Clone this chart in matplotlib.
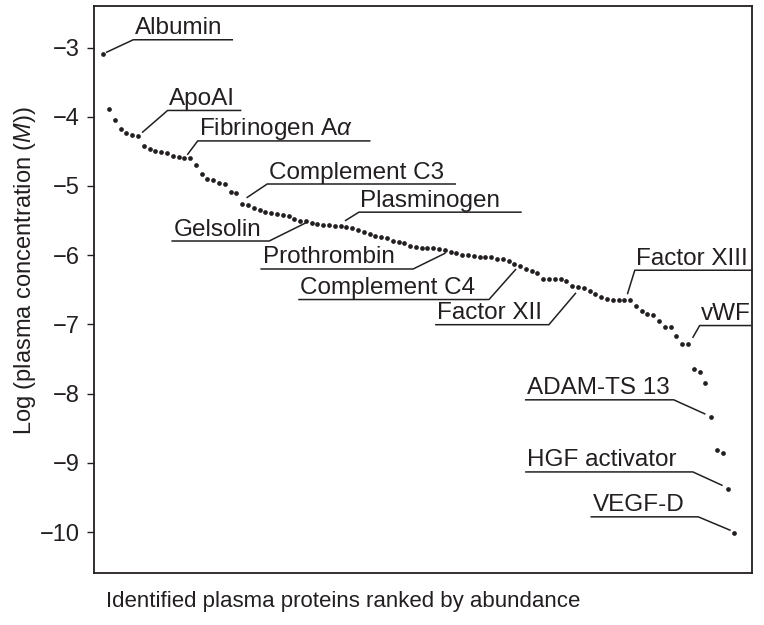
import matplotlib.pyplot as plt
from matplotlib.lines import Line2D

plt.rcParams['font.family'] = ['Liberation Sans', 'DejaVu Sans']
plt.rcParams['mathtext.fontset'] = 'custom'
plt.rcParams['mathtext.rm'] = 'Liberation Sans'
plt.rcParams['mathtext.it'] = 'Liberation Sans:italic'

W, H = 764, 625
ink = '#231f20'

# log10 of the molar plasma concentration, proteins ranked by abundance
log_conc = [
    -3.09, -3.89, -4.04, -4.17, -4.24, -4.26, -4.28, -4.42, -4.46, -4.49,
    -4.51, -4.53, -4.56, -4.58, -4.59, -4.60, -4.70, -4.82, -4.90, -4.92,
    -4.95, -4.97, -5.09, -5.10, -5.26, -5.27, -5.32, -5.34, -5.38, -5.39,
    -5.40, -5.42, -5.44, -5.47, -5.50, -5.51, -5.54, -5.55, -5.56, -5.57,
    -5.58, -5.58, -5.59, -5.60, -5.64, -5.67, -5.69, -5.72, -5.73, -5.75,
    -5.79, -5.81, -5.83, -5.86, -5.88, -5.89, -5.90, -5.90, -5.91, -5.92,
    -5.95, -5.97, -5.99, -6.00, -6.01, -6.02, -6.03, -6.03, -6.05, -6.05,
    -6.08, -6.13, -6.16, -6.20, -6.23, -6.25, -6.34, -6.35, -6.35, -6.35,
    -6.37, -6.44, -6.46, -6.48, -6.51, -6.56, -6.60, -6.63, -6.64, -6.64,
    -6.64, -6.65, -6.73, -6.80, -6.85, -6.87, -6.95, -7.03, -7.04, -7.16,
    -7.28, -7.28, -7.65, -7.68, -7.84, -8.34, -8.81, -8.86, -9.38, -10.01,
]
rank = list(range(1, len(log_conc) + 1))

names = ['Albumin', 'ApoAI', r'Fibrinogen A$\alpha$', 'Complement C3', 'Plasminogen',
         'Gelsolin', 'Prothrombin', 'Complement C4', 'Factor XII', 'Factor XIII',
         'vWF', 'ADAM-TS 13', 'HGF activator', 'VEGF-D']
name_rank = [1, 7, 15, 25, 42, 36, 60, 72, 82, 91, 102, 106, 109, 110]

# leader layout in pixels (y down): start offset from dot, elbow offset, underline length
leaders = [
    (3.4, -1.6, 30, -14, 99),
    (4.6, -4, 29.6, -25.7, 73),
    (3.4, -3.4, 13.4, -16.7, 172),
    (5, -6.6, 25, -20, 188),
    (5, -5.7, 18.3, -14, 162),
    (-1, 2, -36.7, 19.7, -97),
    (0, 3.7, -31.7, 19.3, -152),
    (1.3, 5.3, -25.3, 35.3, -190),
    (3.3, 7.7, -23.3, 39, -113),
    (3.3, -6, 10.5, -29.3, 117),
    (5, -6.6, 11.7, -18.3, 51),
    (-6.4, -3.4, -37.4, -17.4, -148),
    (-6.6, -4, -35.6, -17.3, -167),
    (-4.3, -2.7, -36, -16, -107),
]

fig = plt.figure(figsize=(W / 100, H / 100), dpi=100)
ax = fig.add_axes([94 / W, 52 / H, 658 / W, 567 / H])

ax.plot(rank, log_conc, 'o', ms=3.4, color=ink, mec='none')
ax.set_xlim(-0.6, 113.06)
ax.set_ylim(-10.59, -2.40)
ax.set_yticks(range(-10, -2))
ax.set_xticks([])
ax.tick_params(axis='y', direction='out', length=5, width=1, color=ink,
               labelsize=17, labelcolor=ink, pad=5)
for s in ax.spines.values():
    s.set_linewidth(1.3)
    s.set_color(ink)

fig.text(25 / W, 1 - 271 / H, r'Log (plasma concentration ($\mathit{M}$))',
         rotation=90, ha='center', va='center', fontsize=17, color=ink)
fig.text(343.5 / W, 1 - 602 / H, 'Identified plasma proteins ranked by abundance',
         ha='center', va='center', fontsize=16, color=ink)


def to_fig(x, y):
    return x / W, 1 - y / H


for name, r, (sx, sy, ex, ey, ul) in zip(names, name_rank, leaders):
    dx, dy = ax.transData.transform((r, log_conc[r - 1]))
    dy = H - dy
    p0 = (dx + sx, dy + sy)
    p1 = (dx + ex, dy + ey)
    p2 = (p1[0] + ul, p1[1])
    pts = [to_fig(*p) for p in (p0, p1, p2)]
    fig.add_artist(Line2D([p[0] for p in pts], [p[1] for p in pts],
                          transform=fig.transFigure, lw=1.1, color=ink))
    left = min(p1[0], p2[0]) + 1.5
    tx, ty = to_fig(left, p1[1] - 5.5)
    fig.text(tx, ty, name, ha='left', va='baseline', fontsize=17.5, color=ink)

fig.savefig('out.png', dpi=100)
